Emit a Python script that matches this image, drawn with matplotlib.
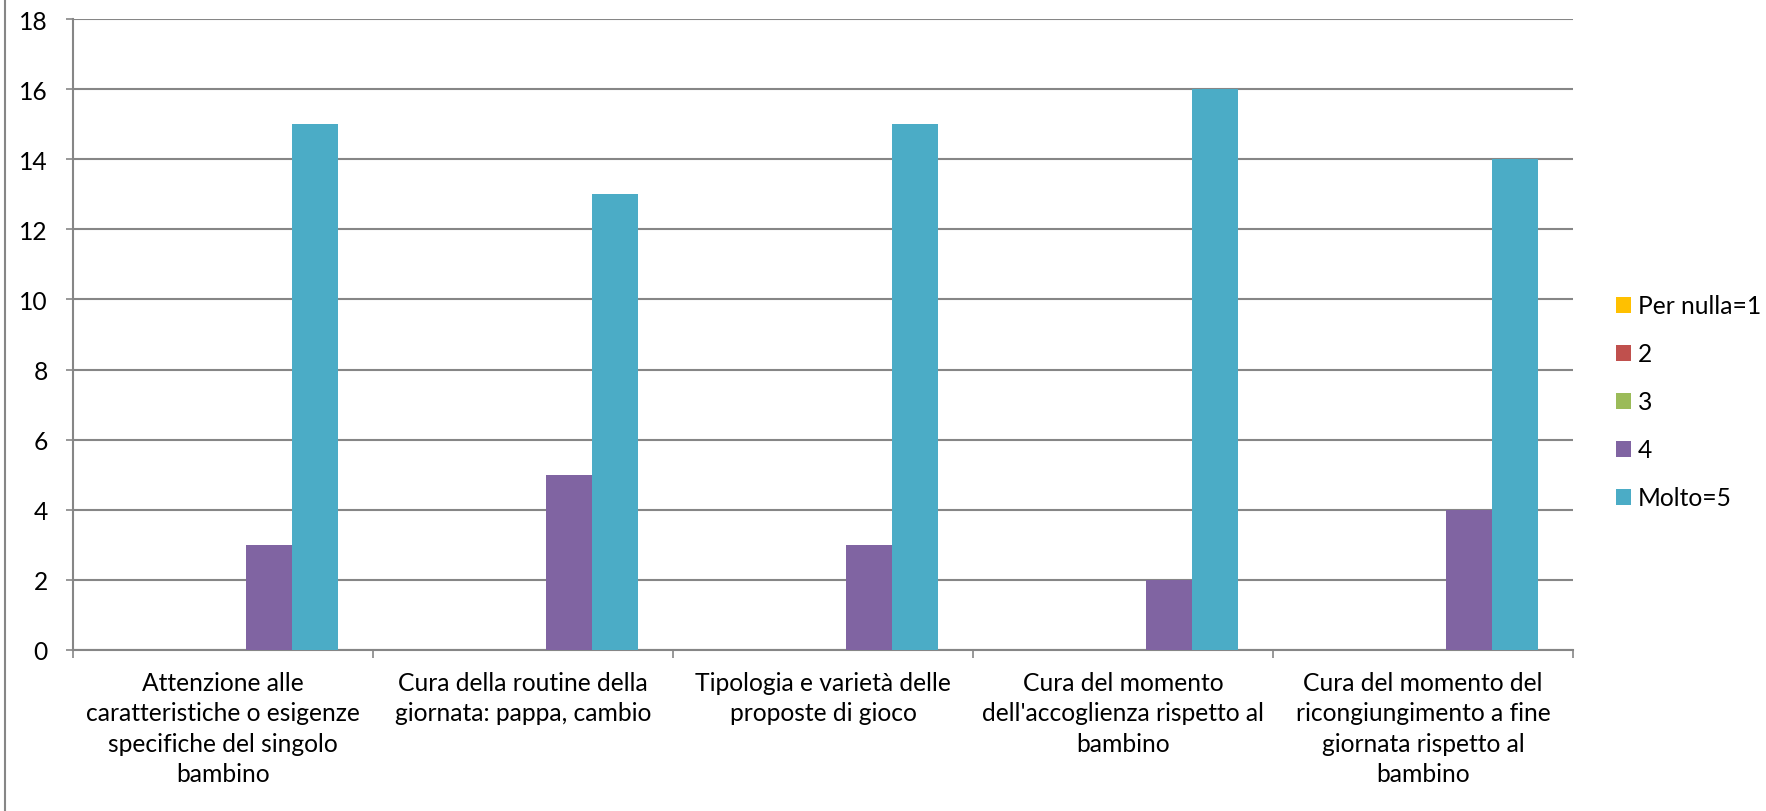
import matplotlib
matplotlib.use("Agg")
import matplotlib.pyplot as plt
from matplotlib.patches import Patch
from matplotlib.lines import Line2D
import numpy as np

categories = [
    "Attenzione alle\ncaratteristiche o esigenze\nspecifiche del singolo\nbambino",
    "Cura della routine della\ngiornata: pappa, cambio",
    "Tipologia e varietà delle\nproposte di gioco",
    "Cura del momento\ndell'accoglienza rispetto al\nbambino",
    "Cura del momento del\nricongiungimento a fine\ngiornata rispetto al\nbambino",
]
series_names = ["Per nulla=1", "2", "3", "4", "Molto=5"]
s1 = [0, 0, 0, 0, 0]
s2 = [0, 0, 0, 0, 0]
s3 = [0, 0, 0, 0, 0]
s4 = [3, 5, 3, 2, 4]
s5 = [15, 13, 15, 16, 14]
series_values = [s1, s2, s3, s4, s5]
colors = ["#FFC000", "#C0504D", "#9BBB59", "#8064A2", "#4BACC6"]
y_ticks = [0, 2, 4, 6, 8, 10, 12, 14, 16, 18]

plt.rcParams['font.family'] = ['Lato', 'DejaVu Sans']
W, H = 1766, 812
DPI = 100

fig = plt.figure(figsize=(W/DPI, H/DPI), dpi=DPI)

# size the font so a reference line has the width seen in the original
renderer = fig.canvas.get_renderer()
probe = fig.text(0, 0, "caratteristiche o esigenze", fontsize=20)
pw = probe.get_window_extent(renderer).width
probe.remove()
fs = 20 * 275.0 / pw
probe = fig.text(0, 0, "lp", fontsize=fs)
lp_h = probe.get_window_extent(renderer).height
probe.remove()
fs_px = fs * DPI / 72
line_sp = 32.0 / lp_h

ax = fig.add_axes([73/W, 1-651/H, (1573-73)/W, (651-20)/H])

x = np.arange(len(categories))
w = 1/6.5
for i, (vals, col) in enumerate(zip(series_values, colors)):
    ax.bar(x + (i-2)*w, vals, width=w, color=col, zorder=3, label=series_names[i])

ax.set_xlim(-0.5, len(categories)-0.5)
ax.set_ylim(0, 18)
ax.set_yticks(y_ticks)
ax.set_yticklabels([str(t) for t in y_ticks], fontsize=fs)
ax.yaxis.grid(True, color="#868686", linewidth=1.5, zorder=0)
ax.set_axisbelow(True)

ax.set_xticks(x)
ax.set_xticklabels(categories, fontsize=fs, linespacing=line_sp)
ax.set_xticks(np.arange(-0.5, len(categories)), minor=True)
ax.tick_params(axis='x', which='major', length=0, pad=15)
ax.tick_params(axis='x', which='minor', length=5.5, width=1.2, color="#868686")
ax.tick_params(axis='y', length=5, width=1.2, color="#868686", pad=13)

for s in ['top', 'right']:
    ax.spines[s].set_visible(False)
for s in ['left', 'bottom']:
    ax.spines[s].set_color("#868686")
    ax.spines[s].set_linewidth(1.5)

handles = [Patch(facecolor=c, edgecolor='none') for c in colors]
hl = 15.0 / fs_px
leg = ax.legend(handles, series_names, loc='center left',
                bbox_to_anchor=(1616/W, 1-403/H), bbox_transform=fig.transFigure,
                frameon=False, fontsize=fs, handlelength=hl, handleheight=hl,
                handletextpad=7.0/fs_px, labelspacing=(48.0 - lp_h)/fs_px,
                borderaxespad=0, borderpad=0)

fig.add_artist(Line2D([4.5/W, 4.5/W], [0, 1], color="#868686", linewidth=1.5,
                      transform=fig.transFigure))

fig.savefig("out.png", dpi=DPI)
